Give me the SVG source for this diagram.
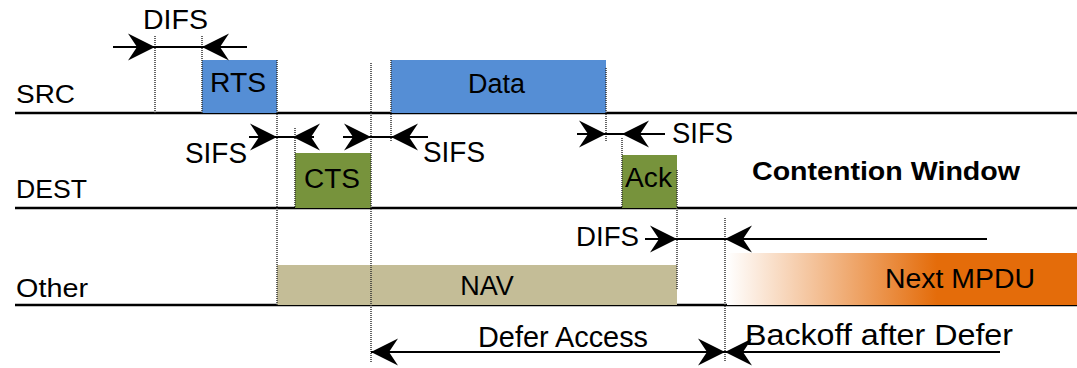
<svg xmlns="http://www.w3.org/2000/svg" width="1077" height="368" viewBox="0 0 1077 368">
<style>
text{font-family:"Liberation Sans",Arial,sans-serif;font-size:27px;fill:#000}
.b{font-weight:bold;font-size:26px}
.lab{font-size:25px}
.big{font-size:29px}
.axis{stroke:#000;stroke-width:2.5;fill:none}
.dot{stroke:#333;stroke-width:1.5;stroke-dasharray:1 1;fill:none}
.arr{stroke:#000;stroke-width:2;fill:none}
.arrm{stroke:#000;stroke-width:2;fill:none;marker-end:url(#ah)}
</style>
<defs>
<marker id="ah" viewBox="-28 -14 28 28" refX="0" refY="0" markerWidth="28" markerHeight="28" markerUnits="userSpaceOnUse" orient="auto">
<path d="M0,0 L-27,-13.5 L-18,0 L-27,13.5 Z" fill="#000"/>
</marker>
<linearGradient id="gr" x1="0" y1="0" x2="1" y2="0">
<stop offset="0" stop-color="#ffffff"/>
<stop offset="0.6" stop-color="#E46C0A"/>
<stop offset="1" stop-color="#E46C0A"/>
</linearGradient>
</defs>

<g id="timelines">
<line class="axis" x1="15" y1="113" x2="1077" y2="113"/>
<line class="axis" x1="15" y1="208" x2="1077" y2="208"/>
<line class="axis" x1="15" y1="305" x2="1077" y2="305"/>
<text class="lab" x="16" y="103" textLength="59" lengthAdjust="spacingAndGlyphs">SRC</text>
<text class="lab" x="16" y="198" textLength="71" lengthAdjust="spacingAndGlyphs">DEST</text>
<text class="lab" x="16" y="297" textLength="72" lengthAdjust="spacingAndGlyphs">Other</text>
</g>

<g id="rts">
<rect x="202" y="60" width="75" height="53" fill="#558ED5"/>
<text x="210" y="92" textLength="56" lengthAdjust="spacingAndGlyphs">RTS</text>
</g>
<g id="data">
<rect x="391" y="60" width="215" height="53" fill="#558ED5"/>
<text x="468" y="93" textLength="57" lengthAdjust="spacingAndGlyphs">Data</text>
</g>
<g id="cts">
<rect x="295" y="153" width="76" height="55" fill="#77933C"/>
<text x="304" y="188" textLength="56" lengthAdjust="spacingAndGlyphs">CTS</text>
</g>
<g id="ack">
<rect x="622" y="155" width="55" height="53" fill="#77933C"/>
<text x="625" y="187" textLength="47" lengthAdjust="spacingAndGlyphs">Ack</text>
</g>
<g id="nav">
<rect x="277" y="265" width="400" height="40" fill="#C4BD97"/>
<text x="487" y="295" text-anchor="middle">NAV</text>
</g>
<g id="next-mpdu">
<rect x="727" y="253" width="350" height="52" fill="url(#gr)"/>
<text x="885" y="288" textLength="150" lengthAdjust="spacingAndGlyphs">Next MPDU</text>
</g>
<g id="contention-window">
<text class="b" x="752" y="180" textLength="268" lengthAdjust="spacingAndGlyphs">Contention Window</text>
</g>

<g id="guides">
<line class="dot" x1="155" y1="36" x2="155" y2="113"/>
<line class="dot" x1="202" y1="36" x2="202" y2="113"/>
<line class="dot" x1="277" y1="60" x2="277" y2="305"/>
<line class="dot" x1="295" y1="128" x2="295" y2="208"/>
<line class="dot" x1="371" y1="63" x2="371" y2="362"/>
<line class="dot" x1="391" y1="60" x2="391" y2="142"/>
<line class="dot" x1="606" y1="68" x2="606" y2="142"/>
<line class="dot" x1="622" y1="138" x2="622" y2="208"/>
<line class="dot" x1="677" y1="170" x2="677" y2="290"/>
<line class="dot" x1="725" y1="218" x2="725" y2="362"/>
</g>

<g id="connectors">
<!-- DIFS top -->
<line class="arrm" x1="113" y1="47" x2="155" y2="47"/>
<line class="arr" x1="155" y1="47" x2="202" y2="47"/>
<line class="arrm" x1="247" y1="47" x2="202" y2="47"/>
<!-- SIFS 1 -->
<line class="arrm" x1="249" y1="137" x2="277" y2="137"/>
<line class="arr" x1="277" y1="137" x2="293" y2="137"/>
<line class="arrm" x1="314" y1="137" x2="293" y2="137"/>
<!-- SIFS 2 -->
<line class="arrm" x1="343" y1="137" x2="371" y2="137"/>
<line class="arr" x1="371" y1="137" x2="391" y2="137"/>
<line class="arrm" x1="428" y1="137" x2="391" y2="137"/>
<!-- SIFS 3 -->
<line class="arrm" x1="577" y1="134" x2="606" y2="134"/>
<line class="arr" x1="606" y1="134" x2="622" y2="134"/>
<line class="arrm" x1="665" y1="134" x2="622" y2="134"/>
<!-- DIFS bottom -->
<line class="arrm" x1="645" y1="239" x2="677" y2="239"/>
<line class="arr" x1="677" y1="239" x2="725" y2="239"/>
<line class="arrm" x1="987" y1="239" x2="725" y2="239"/>
<!-- Defer access -->
<line class="arrm" x1="548" y1="352" x2="371" y2="352"/>
<line class="arrm" x1="548" y1="352" x2="725" y2="352"/>
<!-- Backoff -->
<line class="arrm" x1="1000" y1="352" x2="725" y2="352"/>
</g>

<g id="labels">
<text x="143" y="29" textLength="65" lengthAdjust="spacingAndGlyphs">DIFS</text>
<text class="big" x="185" y="163" textLength="62" lengthAdjust="spacingAndGlyphs">SIFS</text>
<text class="big" x="423" y="162" textLength="62" lengthAdjust="spacingAndGlyphs">SIFS</text>
<text class="big" x="672" y="143" textLength="61" lengthAdjust="spacingAndGlyphs">SIFS</text>
<text x="576" y="246" textLength="63" lengthAdjust="spacingAndGlyphs">DIFS</text>
<text class="big" x="478" y="347" textLength="170" lengthAdjust="spacingAndGlyphs">Defer Access</text>
<text class="big" x="745" y="345" textLength="268" lengthAdjust="spacingAndGlyphs">Backoff after Defer</text>
</g>
</svg>
